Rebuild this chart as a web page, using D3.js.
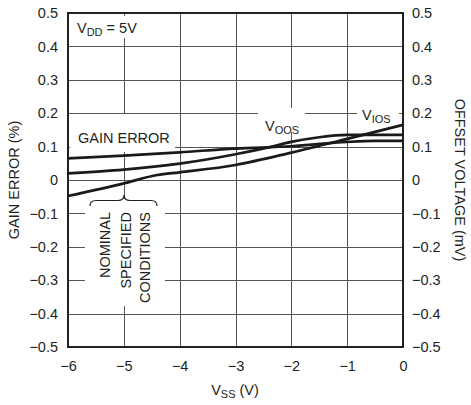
<!DOCTYPE html>
<html>
<head>
<meta charset="utf-8">
<script src="https://cdn.jsdelivr.net/npm/d3@7"></script>
<style>
  html, body { margin: 0; padding: 0; background: #fff; }
  svg text { font-family: "Liberation Sans", Arial, sans-serif; fill: #231f20; }
</style>
</head>
<body>
<svg id="chart" width="471" height="405"></svg>
<script>
// ---- data ----
const xTicks = [-6, -5, -4, -3, -2, -1, 0];
const yTicks = [-0.5, -0.4, -0.3, -0.2, -0.1, 0, 0.1, 0.2, 0.3, 0.4, 0.5];

const gainVss   = [-6, -5, -4, -3, -2, -1, -0.5, 0];
const gainError = [0.065, 0.073, 0.083, 0.094, 0.101, 0.114, 0.117, 0.117];

const voosVss = [-6, -5, -4, -3, -2.35, -2, -1.5, -1, -0.5, 0];
const voos    = [0.02, 0.031, 0.049, 0.077, 0.1, 0.114, 0.128, 0.135, 0.135, 0.135];

const viosVss = [-6, -5, -4.4, -4, -3, -2, -1, 0];
const vios    = [-0.048, -0.01, 0.015, 0.023, 0.045, 0.082, 0.123, 0.165];

// ---- layout ----
const L = 68, R = 403, T = 13, B = 347;
const FS = 14.5;
const svg = d3.select("#chart");
const x = d3.scaleLinear().domain([-6, 0]).range([L, R]);
const y = d3.scaleLinear().domain([-0.5, 0.5]).range([B, T]);
const fmtY = d => d === 0 ? "0" : d3.format(".1f")(d);
const fmtX = d => d === 0 ? "0" : d3.format("d")(d);

// gridlines
const grid = svg.append("g").attr("stroke", "#555").attr("stroke-width", 1);
grid.selectAll("line.h").data(yTicks.slice(1, -1)).join("line")
  .attr("x1", L).attr("x2", R)
  .attr("y1", d => Math.round(y(d)) + 0.5).attr("y2", d => Math.round(y(d)) + 0.5);
grid.selectAll("line.v").data(xTicks.slice(1, -1)).join("line")
  .attr("y1", T).attr("y2", B)
  .attr("x1", d => Math.round(x(d)) + 0.5).attr("x2", d => Math.round(x(d)) + 0.5);

// white label boxes that interrupt gridlines
const boxes = [
  [72, 16, 75, 22],    // VDD
  [70, 114, 105, 38],  // GAIN ERROR
  [258, 108, 47, 24],  // VOOS
  [357, 104, 42, 18],  // VIOS
  [85, 199, 80, 107]   // NOMINAL SPECIFIED CONDITIONS
];
svg.append("g").selectAll("rect").data(boxes).join("rect")
  .attr("x", d => d[0]).attr("y", d => d[1]).attr("width", d => d[2]).attr("height", d => d[3])
  .attr("fill", "#fff");

// frame
svg.append("rect").attr("x", L).attr("y", T).attr("width", R - L).attr("height", B - T)
  .attr("fill", "none").attr("stroke", "#231f20").attr("stroke-width", 2);

// axes
const axL = svg.append("g").attr("transform", `translate(${L},0)`)
  .call(d3.axisLeft(y).tickValues(yTicks).tickFormat(fmtY).tickSize(0).tickPadding(10));
const axR = svg.append("g").attr("transform", `translate(${R},0)`)
  .call(d3.axisRight(y).tickValues(yTicks).tickFormat(fmtY).tickSize(0).tickPadding(9));
const axB = svg.append("g").attr("transform", `translate(0,${B})`)
  .call(d3.axisBottom(x).tickValues(xTicks).tickFormat(fmtX).tickSize(0).tickPadding(14));
[axL, axR, axB].forEach(a => {
  a.select(".domain").remove();
  a.selectAll("text").attr("font-size", FS).attr("font-family", "Liberation Sans, Arial, sans-serif").attr("fill", "#231f20");
});

// curves
const line = d3.line().x(d => x(d[0])).y(d => y(d[1])).curve(d3.curveMonotoneX);
const series = [
  d3.zip(gainVss, gainError),
  d3.zip(voosVss, voos),
  d3.zip(viosVss, vios)
];
svg.append("g").selectAll("path").data(series).join("path")
  .attr("d", line).attr("fill", "none").attr("stroke", "#1a1a1a")
  .attr("stroke-width", 2.7).attr("stroke-linejoin", "round");

// texts
function subLabel(xp, yp, main, sub, rest) {
  const t = svg.append("text").attr("x", xp).attr("y", yp).attr("font-size", FS);
  t.append("tspan").text(main);
  t.append("tspan").attr("font-size", 11).attr("dy", 3).text(sub);
  if (rest) t.append("tspan").attr("dy", -3).text(rest);
  return t;
}
subLabel(77, 33, "V", "DD", " = 5V");
svg.append("text").attr("x", 78).attr("y", 143).attr("font-size", FS).text("GAIN ERROR");
subLabel(265, 131, "V", "OOS");
subLabel(362, 120, "V", "IOS");
subLabel(235, 395, "V", "SS", " (V)").attr("text-anchor", "middle");

svg.append("text").attr("transform", "translate(18.5,180) rotate(-90)")
  .attr("text-anchor", "middle").attr("font-size", FS).text("GAIN ERROR (%)");
svg.append("text").attr("transform", "translate(455,180) rotate(90)")
  .attr("text-anchor", "middle").attr("font-size", FS).text("OFFSET VOLTAGE (mV)");

const nomWords = ["NOMINAL", "SPECIFIED", "CONDITIONS"];
const nomX = [110, 131, 150];
nomWords.forEach((w, i) => {
  svg.append("text").attr("transform", `translate(${nomX[i]},212) rotate(-90)`)
    .attr("text-anchor", "end").attr("font-size", FS).text(w);
});

// brace
svg.append("path")
  .attr("d", "M90,206 Q90,200.5 96,200.5 L118,200.5 Q124,200.5 124,195 Q124,200.5 130,200.5 L151,200.5 Q157,200.5 157,206")
  .attr("fill", "none").attr("stroke", "#231f20").attr("stroke-width", 1.2);
</script>
</body>
</html>
